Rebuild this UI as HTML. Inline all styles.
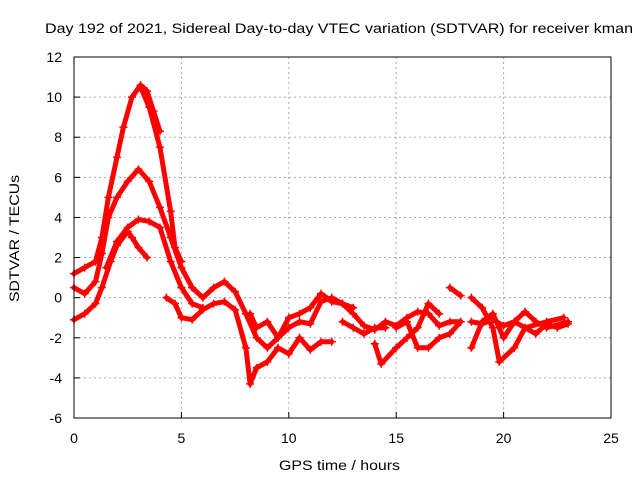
<!DOCTYPE html>
<html><head><meta charset="utf-8"><style>
body{margin:0;background:#fff}
svg{display:block;font-family:"Liberation Sans",sans-serif;font-size:14px}
</style></head><body>
<svg id="c" width="640" height="480">
<rect width="640" height="480" fill="#fff"/>
<text x="45" y="33" textLength="588" lengthAdjust="spacingAndGlyphs">Day 192 of 2021, Sidereal Day-to-day VTEC variation (SDTVAR) for receiver kman</text>
<text x="279" y="470" textLength="121" lengthAdjust="spacingAndGlyphs">GPS time / hours</text>
<text transform="translate(19,302) rotate(-90)" textLength="127" lengthAdjust="spacingAndGlyphs">SDTVAR / TECUs</text>
<g id="grid"></g><g id="marks"></g>
<rect x="74" y="57" width="537" height="361" fill="none" stroke="#000"/>
</svg>
<script>
const xTicks=[0,5,10,15,20,25];
const yTicks=[-6,-4,-2,0,2,4,6,8,10,12];
const traceA=[[0,-1.1],[0.5,-0.8],[1,-0.3],[1.3,0.5],[1.7,1.8],[2,2.6],[2.5,3.3],[2.7,3.0],[3,2.5],[3.4,2.0]];
const traceB=[[0,1.2],[0.5,1.5],[1,1.8],[1.3,3],[1.6,5],[2,7],[2.3,8.5],[2.7,10],[3.1,10.6],[3.4,10.3],[3.7,9.3],[4,8.3]];
const traceC=[[0,0.5],[0.5,0.2],[1,0.8],[1.3,2.2],[1.6,4.0],[2,5],[2.5,5.8],[3,6.4],[3.5,5.8],[4,4.5],[4.5,3],[5,1.5],[5.5,0.5],[6,0],[6.5,0.5],[7,0.8],[7.5,0.3],[8,-0.8],[8.5,-2.0],[9,-2.5],[9.5,-2],[10,-1.5],[10.5,-1.2],[11,-1.3],[11.5,-0.2],[12,0],[12.5,-0.3],[13,-0.8],[13.5,-1.4],[14,-1.6],[14.5,-1.2],[15,-1.4],[15.5,-1.0],[16,-0.7],[16.5,-0.8],[17,-1.4],[17.5,-1.2],[18,-1.2]];
const traceD=[[1.5,1.5],[2,2.8],[2.5,3.5],[3,3.9],[3.5,3.8],[4,3.5],[4.5,1.8],[5,0.5],[5.5,-0.3],[6,-0.5]];
const traceE=[[3.1,10.5],[3.5,9.5],[4,7.5],[4.5,4.3],[4.7,2.5],[5,1.8]];
const traceF=[[4.3,0],[4.7,-0.3],[5,-1],[5.5,-1.1],[6,-0.6],[6.5,-0.3],[7,-0.2],[7.5,-0.6],[8,-2.5],[8.2,-4.3],[8.5,-3.5],[9,-3.2],[9.5,-2.5],[10,-2.8],[10.5,-2],[11,-2.6],[11.5,-2.2],[12,-2.2]];
const traceG=[[8.2,-0.8],[8.5,-1.5],[9,-1.2],[9.5,-2],[10,-1],[10.5,-0.8],[11,-0.5],[11.5,0.2],[12,-0.2],[12.5,-0.3],[13,-0.5]];
const traceH=[[12.5,-1.2],[13,-1.5],[13.5,-1.8],[14,-1.5],[14.5,-1.5]];
const traceI=[[14,-2.3],[14.3,-3.3],[15,-2.5],[15.5,-2],[16,-1.5],[16.5,-0.3],[17,-0.8]];
const traceJ=[[15,-1.5],[15.5,-1.2],[16,-2.5],[16.5,-2.5],[17,-2],[17.5,-1.8],[18,-1.2]];
const traceK=[[17.5,0.5],[18,0.1]];
const traceL=[[18.5,-2.5],[19,-1.2],[19.5,-0.8],[20,-2],[20.5,-1.2],[21,-0.7],[21.5,-1.2],[22,-1.5],[23,-1.2]];
const traceM=[[18.5,0],[19,-0.5],[19.5,-1.5],[19.8,-3.2],[20.5,-2.5],[21,-1.5],[21.5,-1.8],[22,-1.3],[22.5,-1.5],[23,-1.3]];
const traceN=[[18.5,-1.2],[19,-1.3],[19.5,-1.1],[20,-1.4],[20.5,-1.2],[21,-1.5],[22,-1.2],[22.8,-1.0]];
const traces=[traceA,traceB,traceC,traceD,traceE,traceF,traceG,traceH,traceI,traceJ,traceK,traceL,traceM,traceN];
const NS='http://www.w3.org/2000/svg';
const X=v=>74+v*(537/25), Y=v=>418-(v+6)*(361/18);
const grid=document.getElementById('grid'), marks=document.getElementById('marks');
function mk(tag,at,par){const e=document.createElementNS(NS,tag);for(const k in at)e.setAttribute(k,at[k]);par.appendChild(e);return e;}
xTicks.forEach(t=>{
 if(t>0&&t<25){const l=mk('line',{x1:X(t),x2:X(t),y1:57,y2:418,stroke:'#aaa','stroke-dasharray':'2,3'},grid);
 
 }
 const s=mk('line',{x1:X(t),x2:X(t),y1:418,y2:412,stroke:'#000'},grid);
 
 
 const tx=mk('text',{x:X(t),y:443,'text-anchor':'middle'},grid);tx.textContent=t;
 
 
});
yTicks.forEach(t=>{
 if(t>-6&&t<12){const l=mk('line',{x1:74,x2:611,y1:Y(t),y2:Y(t),stroke:'#aaa','stroke-dasharray':'2,3'},grid);
 
 }
 const s=mk('line',{x1:74,x2:80,y1:Y(t),y2:Y(t),stroke:'#000'},grid);
 
 
 const tx=mk('text',{x:62,y:Y(t)+5,'text-anchor':'end'},grid);tx.textContent=t;
 
 
});
traces.forEach(tr=>{
 const p=mk('polyline',{points:tr.map(d=>X(d[0])+','+Y(d[1])).join(' '),fill:'none',stroke:'#f00','stroke-width':5,'stroke-linejoin':'round','stroke-linecap':'round'},marks);
 
 
 tr.forEach(d=>{
  const x=X(d[0]),y=Y(d[1]);
  const m=mk('path',{d:`M${x-4},${y}h8M${x},${y-4}v8`,stroke:'#f00','stroke-width':1.5},marks);
  
  
 });
});
</script>
</body></html>
